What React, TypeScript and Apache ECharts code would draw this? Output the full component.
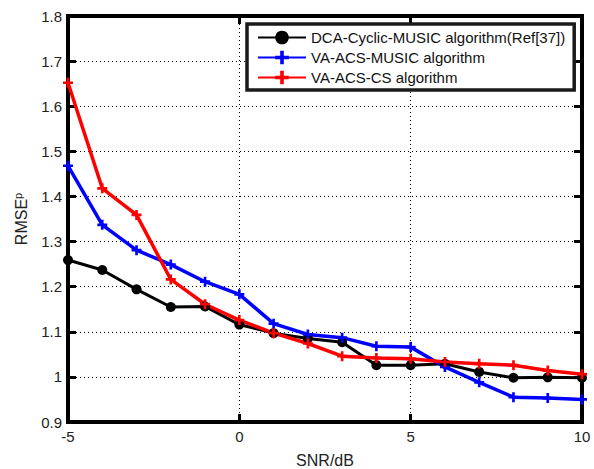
import React, { useEffect, useRef } from "react";
import * as echarts from "echarts";

const snr = [-5, -4, -3, -2, -1, 0, 1, 2, 3, 4, 5, 6, 7, 8, 9, 10];
const dcaCyclicMusic = [1.259, 1.237, 1.194, 1.155, 1.156, 1.116, 1.097, 1.085, 1.077, 1.026, 1.026, 1.029, 1.011, 0.998, 0.999, 0.998];
const vaAcsMusic = [1.468, 1.337, 1.281, 1.249, 1.211, 1.183, 1.118, 1.094, 1.087, 1.068, 1.066, 1.022, 0.988, 0.955, 0.953, 0.950];
const vaAcsCs = [1.652, 1.418, 1.359, 1.216, 1.161, 1.126, 1.097, 1.074, 1.046, 1.042, 1.040, 1.033, 1.029, 1.026, 1.014, 1.006];
const seriesNames = [
  "DCA-Cyclic-MUSIC algorithm(Ref[37])",
  "VA-ACS-MUSIC algorithm",
  "VA-ACS-CS algorithm",
];
const xLabel = "SNR/dB";

const FONT = "'Liberation Sans', Arial, sans-serif";
const PLUS =
  "path://M-1.2,-4.5 L1.2,-4.5 L1.2,-1.2 L4.5,-1.2 L4.5,1.2 L1.2,1.2 L1.2,4.5 L-1.2,4.5 L-1.2,1.2 L-4.5,1.2 L-4.5,-1.2 L-1.2,-1.2 Z";

export default function App() {
  const ref = useRef<HTMLDivElement>(null);
  useEffect(() => {
    if (!ref.current) return;
    const chart = echarts.init(ref.current, null, { renderer: "svg" });
    const toPairs = (ys: number[]) => snr.map((x, i) => [x, ys[i]]);
    const mkLine = () => ({ show: true, onZero: false, lineStyle: { color: "#000", width: 3 } });
    const mkTick = () => ({ show: true, inside: true, length: 8, lineStyle: { color: "#000", width: 3 } });
    const mkGrid = () => ({ type: [1, 3] as any, color: "#000", width: 1 });
    chart.setOption({
      animation: false,
      backgroundColor: "#fff",
      textStyle: { fontFamily: FONT },
      grid: {
        left: 68,
        right: 12,
        top: 16,
        bottom: 47,
        show: true,
        borderColor: "#000",
        borderWidth: 4,
        outerBoundsMode: "none",
      },
      legend: {
        orient: "vertical",
        left: 247,
        top: 24,
        padding: [6, 9, 5, 10],
        itemGap: 5,
        itemWidth: 48,
        itemHeight: 17,
        backgroundColor: "#fff",
        borderColor: "#1a1a1a",
        borderWidth: 3.5,
        textStyle: { fontFamily: FONT, fontSize: 15, color: "#111" },
        data: seriesNames,
      },
      xAxis: [
        {
          type: "value",
          min: -5,
          max: 10,
          interval: 5,
          name: xLabel,
          nameLocation: "middle",
          nameGap: 30,
          nameTextStyle: { fontFamily: FONT, fontSize: 16, color: "#222", verticalAlign: "top" },
          axisLine: mkLine(),
          axisTick: mkTick(),
          axisLabel: { fontFamily: FONT, fontSize: 15, color: "#222", margin: 7 },
          splitLine: { show: true, lineStyle: mkGrid() },
        },
        {
          type: "value",
          position: "top",
          min: -5,
          max: 10,
          interval: 5,
          axisLine: mkLine(),
          axisTick: mkTick(),
          axisLabel: { show: false },
          splitLine: { show: false },
        },
      ],
      yAxis: [
        {
          type: "value",
          min: 0.9,
          max: 1.8,
          interval: 0.1,
          name: "RMSE{sup|p}",
          nameLocation: "middle",
          nameGap: 37,
          nameTextStyle: {
            fontFamily: FONT,
            fontSize: 16,
            color: "#222",
            rich: {
              sup: { fontFamily: FONT, fontSize: 11, color: "#222", verticalAlign: "top", padding: [0, 0, 8, 0] },
            },
          },
          axisLine: mkLine(),
          axisTick: mkTick(),
          axisLabel: {
            fontFamily: FONT,
            fontSize: 15,
            color: "#222",
            margin: 6,
            formatter: (v: number) => String(Math.round(v * 10) / 10),
          },
          splitLine: { show: true, lineStyle: mkGrid() },
        },
        {
          type: "value",
          position: "right",
          min: 0.9,
          max: 1.8,
          interval: 0.1,
          axisLine: mkLine(),
          axisTick: mkTick(),
          axisLabel: { show: false },
          splitLine: { show: false },
        },
      ],
      series: [
        {
          name: seriesNames[0],
          type: "line",
          data: toPairs(dcaCyclicMusic),
          symbol: "circle",
          symbolSize: 10,
          lineStyle: { color: "#000", width: 3 },
          itemStyle: { color: "#000" },
        },
        {
          name: seriesNames[1],
          type: "line",
          data: toPairs(vaAcsMusic),
          symbol: PLUS,
          symbolSize: 10,
          lineStyle: { color: "#0000ff", width: 3.5 },
          itemStyle: { color: "#0000ff" },
        },
        {
          name: seriesNames[2],
          type: "line",
          data: toPairs(vaAcsCs),
          symbol: PLUS,
          symbolSize: 10,
          lineStyle: { color: "#ff0000", width: 3.5 },
          itemStyle: { color: "#ff0000" },
        },
      ],
    });
    return () => chart.dispose();
  }, []);
  return <div ref={ref} style={{ width: 594, height: 469, position: "fixed", left: 0, top: 0 }} />;
}
